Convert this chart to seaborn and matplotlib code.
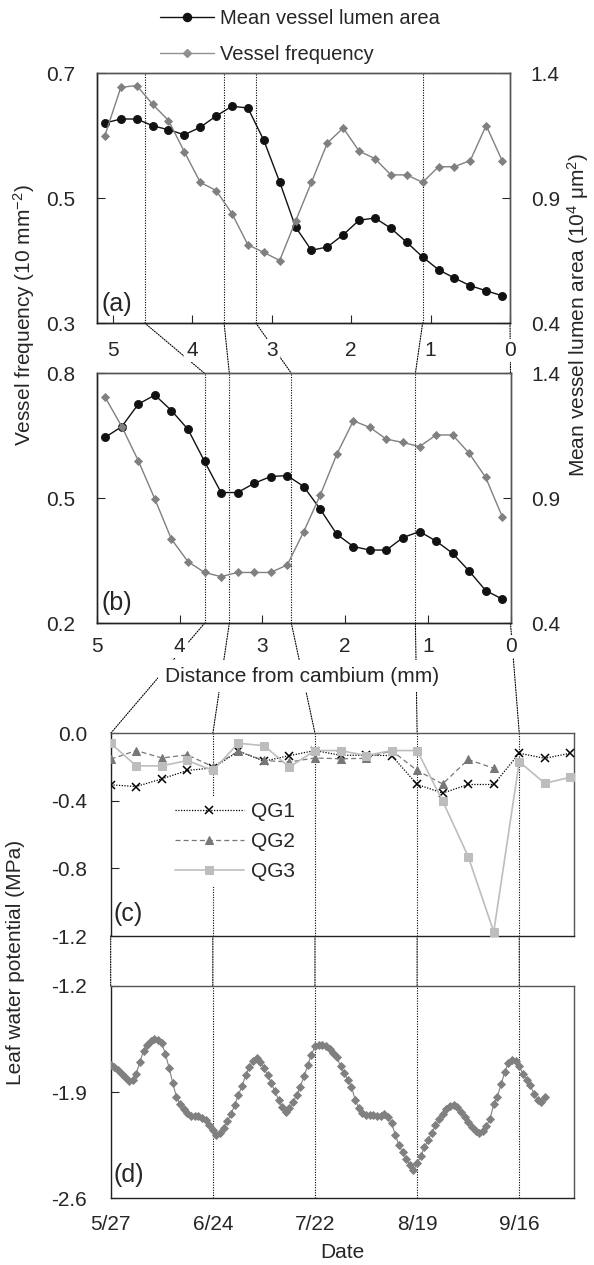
import numpy as np
import pandas as pd
import matplotlib
matplotlib.use("Agg")
import matplotlib.pyplot as plt
import seaborn as sns
from matplotlib.patches import ConnectionPatch
from matplotlib.lines import Line2D

sns.set_style("ticks")
plt.rcParams["font.family"] = ["Liberation Sans", "DejaVu Sans"]
plt.rcParams["axes.unicode_minus"] = False
plt.rcParams["mathtext.default"] = "regular"

# ---------------- data ----------------
dist_a = [5.1, 4.9, 4.7, 4.5, 4.3, 4.1, 3.9, 3.7, 3.5, 3.3, 3.1, 2.9, 2.7,
          2.5, 2.3, 2.1, 1.9, 1.7, 1.5, 1.3, 1.1, 0.9, 0.7, 0.5, 0.3, 0.1]
freq_a = [0.600, 0.677, 0.680, 0.650, 0.624, 0.574, 0.525, 0.512, 0.475, 0.425,
          0.413, 0.400, 0.463, 0.525, 0.588, 0.612, 0.575, 0.563, 0.537, 0.537,
          0.525, 0.550, 0.550, 0.560, 0.616, 0.560]
area_a = [1.200, 1.216, 1.216, 1.189, 1.173, 1.153, 1.183, 1.228, 1.267, 1.260,
          1.131, 0.964, 0.784, 0.691, 0.704, 0.753, 0.811, 0.820, 0.779, 0.723,
          0.664, 0.613, 0.580, 0.549, 0.529, 0.509]

dist_b = [4.9, 4.7, 4.5, 4.3, 4.1, 3.9, 3.7, 3.5, 3.3, 3.1, 2.9, 2.7, 2.5,
          2.3, 2.1, 1.9, 1.7, 1.5, 1.3, 1.1, 0.9, 0.7, 0.5, 0.3, 0.1]
freq_b = [0.742, 0.672, 0.590, 0.498, 0.402, 0.348, 0.322, 0.312, 0.322, 0.322,
          0.322, 0.340, 0.420, 0.508, 0.606, 0.686, 0.670, 0.642, 0.634, 0.624,
          0.652, 0.652, 0.608, 0.550, 0.456]
area_b = [1.144, 1.187, 1.277, 1.313, 1.251, 1.176, 1.048, 0.923, 0.923, 0.960,
          0.987, 0.991, 0.947, 0.856, 0.756, 0.707, 0.693, 0.693, 0.743, 0.767,
          0.729, 0.680, 0.609, 0.531, 0.497]

# days after 5/27
qg_days = [0, 7, 14, 21, 28, 35, 42, 49, 56, 63, 70, 77, 84, 91, 98, 105, 112, 119, 126]
qg1 = [-0.305, -0.315, -0.270, -0.220, -0.205, -0.106, -0.165, -0.132, -0.102, -0.130,
       -0.130, -0.132, -0.303, -0.354, -0.303, -0.303, -0.118, -0.148, -0.118]
qg2_days = [0, 7, 14, 21, 28, 35, 42, 49, 56, 63, 70, 77, 84, 91, 98, 105]
qg2 = [-0.153, -0.102, -0.146, -0.128, -0.197, -0.106, -0.161, -0.170, -0.146, -0.151,
       -0.148, -0.102, -0.220, -0.300, -0.155, -0.207]
qg3 = [-0.059, -0.193, -0.193, -0.161, -0.220, -0.059, -0.073, -0.200, -0.102, -0.102,
       -0.132, -0.102, -0.102, -0.401, -0.730, -1.175, -0.168, -0.296, -0.260]

lwp_days = list(range(0, 120))
lwp = [-1.720, -1.735, -1.755, -1.780, -1.800, -1.825, -1.820, -1.780, -1.700, -1.630,
       -1.590, -1.565, -1.553, -1.560, -1.580, -1.650, -1.740, -1.840, -1.930, -1.980,
       -2.010, -2.035, -2.055, -2.060, -2.055, -2.070, -2.085, -2.115, -2.150, -2.183,
       -2.170, -2.140, -2.090, -2.045, -1.985, -1.920, -1.860, -1.790, -1.735, -1.695,
       -1.678, -1.700, -1.740, -1.790, -1.840, -1.895, -1.950, -2.000, -2.030, -2.005,
       -1.965, -1.920, -1.865, -1.795, -1.725, -1.655, -1.600, -1.590, -1.590, -1.600,
       -1.615, -1.640, -1.670, -1.730, -1.775, -1.820, -1.865, -1.950, -2.005, -2.035,
       -2.050, -2.052, -2.052, -2.055, -2.060, -2.045, -2.065, -2.107, -2.180, -2.250,
       -2.295, -2.340, -2.380, -2.414, -2.370, -2.320, -2.265, -2.216, -2.170, -2.120,
       -2.075, -2.045, -2.015, -1.995, -1.986, -2.000, -2.030, -2.065, -2.096, -2.130,
       -2.155, -2.168, -2.160, -2.125, -2.075, -1.980, -1.930, -1.850, -1.770, -1.710,
       -1.689, -1.695, -1.730, -1.780, -1.821, -1.855, -1.910, -1.955, -1.965, -1.930]

cut_a = [4.6, 3.6, 3.2, 1.1, 0.0]
cut_b = [3.7, 3.4, 2.65, 1.15, 0.0]
date_ticks = [0, 28, 56, 84, 112]
date_labels = ["5/27", "6/24", "7/22", "8/19", "9/16"]

# ---------------- layout ----------------
W, H = 594, 1265
fig = plt.figure(figsize=(W / 100, H / 100), dpi=100)
fig.patch.set_facecolor("white")


def rect(l, t, r, b):
    return [l / W, 1 - b / H, (r - l) / W, (b - t) / H]


FS = 15
DARK = "#111111"
GRAY = "#808080"
dot_kw = dict(ls=(0, (1, 1.3)), color="black", lw=0.8)


def style_spines(ax):
    for s in ["left", "bottom"]:
        ax.spines[s].set_color("#222222")
        ax.spines[s].set_linewidth(1.0)
    for s in ["top", "right"]:
        ax.spines[s].set_color("#555555")
        ax.spines[s].set_linewidth(1.0)
        ax.spines[s].set_visible(True)


def dual_panel(box, dist, freq, area, xlim, fylim, fticks, cuts, label, labely, xpad):
    ax = fig.add_axes(rect(*box))
    ax2 = ax.twinx()
    ax.set_zorder(ax2.get_zorder() + 1)
    ax.patch.set_visible(False)
    for c in cuts:
        ax2.axvline(c, zorder=0.5, **dot_kw)
    sns.lineplot(x=dist, y=area, ax=ax2, color=DARK, marker="o", markersize=5.8,
                 markeredgecolor=DARK, markeredgewidth=0.6, linewidth=1.0,
                 sort=False, legend=False, zorder=3)
    sns.lineplot(x=dist, y=freq, ax=ax, color=GRAY, marker="D", markersize=3.8,
                 markeredgecolor=GRAY, markeredgewidth=0.6, linewidth=1.0,
                 sort=False, legend=False, zorder=4)
    ax.set_xlim(*xlim)
    ax.set_ylim(*fylim)
    ax2.set_ylim(0.4, 1.4)
    ax.set_yticks(fticks)
    ax.set_yticklabels([f"{v:.1f}" for v in fticks])
    ax2.set_yticks([0.4, 0.9, 1.4])
    ax2.set_yticklabels(["0.4", "0.9", "1.4"])
    ax.set_xticks([5, 4, 3, 2, 1, 0])
    ax.set_xticklabels(["5", "4", "3", "2", "1", "0"])
    ax.tick_params(axis="y", direction="in", length=6, width=0.8, pad=16, labelsize=FS)
    ax2.tick_params(axis="y", direction="in", length=6, width=0.8, pad=15, labelsize=FS)
    ax.tick_params(axis="x", direction="in", length=6, width=0.8, pad=xpad, labelsize=FS)
    for a in (ax, ax2):
        a.set_xlabel("")
        a.set_ylabel("")
        style_spines(a)
    for lbl in ax.get_xticklabels():
        lbl.set_bbox(dict(facecolor="white", edgecolor="none", pad=1.5))
    ax.text(0.012, labely, label, transform=ax.transAxes, fontsize=18,
            ha="left", va="center")
    return ax, ax2


ax_a, ax_a2 = dual_panel((97, 73, 510, 323), dist_a, freq_a, area_a, (5.2, 0),
                         (0.3, 0.7), [0.3, 0.5, 0.7], cut_a, "(a)", 0.076, 13)
ax_b, ax_b2 = dual_panel((97, 373.3, 510.5, 623.3), dist_b, freq_b, area_b, (5.0, 0),
                         (0.2, 0.8), [0.2, 0.5, 0.8], cut_b, "(b)", 0.081, 10)

# ---------------- panel c ----------------
ax_c = fig.add_axes(rect(110.7, 733.3, 574, 936))
for d in date_ticks:
    ax_c.axvline(d, zorder=0.5, **dot_kw)
sns.lineplot(x=qg_days, y=qg1, ax=ax_c, color="black", marker="x", markersize=5.5,
             markeredgecolor="black", markeredgewidth=1.1, linewidth=0.9,
             linestyle=(0, (1, 1.2)), sort=False, label="QG1", zorder=3)
sns.lineplot(x=qg2_days, y=qg2, ax=ax_c, color="#777777", marker="^", markersize=6.2,
             markeredgecolor="#777777", linewidth=0.9, linestyle=(0, (4, 2.5)),
             sort=False, label="QG2", zorder=4)
sns.lineplot(x=qg_days, y=qg3, ax=ax_c, color="#bdbdbd", marker="s", markersize=5.8,
             markeredgecolor="#bdbdbd", linewidth=1.2, sort=False, label="QG3", zorder=5)
ax_c.set_xlim(0, 127)
ax_c.set_ylim(-1.2, 0.0)
ax_c.set_yticks([0.0, -0.4, -0.8, -1.2])
ax_c.set_yticklabels(["0.0", "-0.4", "-0.8", "-1.2"])
ax_c.set_xticks([])
ax_c.tick_params(axis="y", direction="in", length=6, width=0.8, pad=17, labelsize=FS)
ax_c.set_xlabel("")
ax_c.set_ylabel("")
style_spines(ax_c)
leg = ax_c.legend(loc="upper left", bbox_to_anchor=(0.125, 0.69), fontsize=FS,
                  frameon=True, facecolor="white", edgecolor="none", framealpha=1,
                  handlelength=3.3, handletextpad=0.35, labelspacing=0.52,
                  borderpad=0.3, borderaxespad=0)
leg.set_zorder(6)
ax_c.text(0.006, 0.108, "(c)", transform=ax_c.transAxes, fontsize=18,
          ha="left", va="center")

# ---------------- panel d ----------------
ax_d = fig.add_axes(rect(110.7, 985.7, 574, 1198.3))
for d in date_ticks:
    ax_d.axvline(d, zorder=0.5, **dot_kw)
sns.lineplot(x=lwp_days, y=lwp, ax=ax_d, color=GRAY, marker="D", markersize=3.9,
             markeredgecolor=GRAY, markeredgewidth=0.6, linewidth=0.8,
             sort=False, legend=False, zorder=3)
ax_d.set_xlim(0, 127)
ax_d.set_ylim(-2.6, -1.2)
ax_d.set_yticks([-1.2, -1.9, -2.6])
ax_d.set_yticklabels(["-1.2", "-1.9", "-2.6"])
ax_d.set_xticks(date_ticks)
ax_d.set_xticklabels(date_labels)
ax_d.tick_params(axis="y", direction="in", length=6, width=0.8, pad=17, labelsize=FS)
ax_d.tick_params(axis="x", length=0, pad=12, labelsize=FS)
ax_d.set_xlabel("")
ax_d.set_ylabel("")
style_spines(ax_d)
ax_d.text(0.006, 0.11, "(d)", transform=ax_d.transAxes, fontsize=18,
          ha="left", va="center")

# ---------------- connectors ----------------
def connect(axA, xA, yA, axB, xB, yB):
    con = ConnectionPatch(xyA=(xA, yA), coordsA=axA.get_xaxis_transform(),
                          xyB=(xB, yB), coordsB=axB.get_xaxis_transform(),
                          linestyle=(0, (1, 1.3)), color="black", lw=0.8,
                          zorder=-1)
    fig.add_artist(con)


for xa, xb in zip(cut_a, cut_b):
    connect(ax_a, xa, 0, ax_b, xb, 1)
for xb, dd in zip(cut_b, date_ticks):
    connect(ax_b, xb, 0, ax_c, dd, 1)
for dd in date_ticks:
    connect(ax_c, dd, 0, ax_d, dd, 1)

# ---------------- figure texts ----------------
fig.text(302 / W, 1 - 676 / H, "Distance from cambium (mm)", fontsize=FS,
         ha="center", va="center", zorder=5,
         bbox=dict(facecolor="white", edgecolor="none", pad=5))
fig.text(342 / W, 1 - 1252 / H, "Date", fontsize=FS, ha="center", va="center")
fig.text(24 / W, 1 - 315 / H, "Vessel frequency (10 mm$^{-2}$)", fontsize=FS,
         rotation=90, ha="center", va="center")
fig.text(578 / W, 1 - 315 / H, "Mean vessel lumen area (10$^{4}$ μm$^{2}$)",
         fontsize=FS, rotation=90, ha="center", va="center")
fig.text(16 / W, 1 - 962 / H, "Leaf water potential (MPa)", fontsize=FS,
         rotation=90, ha="center", va="center")

handles = [
    Line2D([], [], color=DARK, marker="o", markersize=5.8, linewidth=1.0,
           label="Mean vessel lumen area"),
    Line2D([], [], color="#909090", marker="D", markersize=3.8, linewidth=1.0,
           label="Vessel frequency"),
]
fig.legend(handles=handles, loc="upper left", bbox_to_anchor=(160 / W, 1 - 9 / H),
           frameon=False, fontsize=14.5, handlelength=2.7, handletextpad=0.3,
           labelspacing=0.85, borderpad=0, borderaxespad=0)

fig.savefig("out.png", dpi=100)
